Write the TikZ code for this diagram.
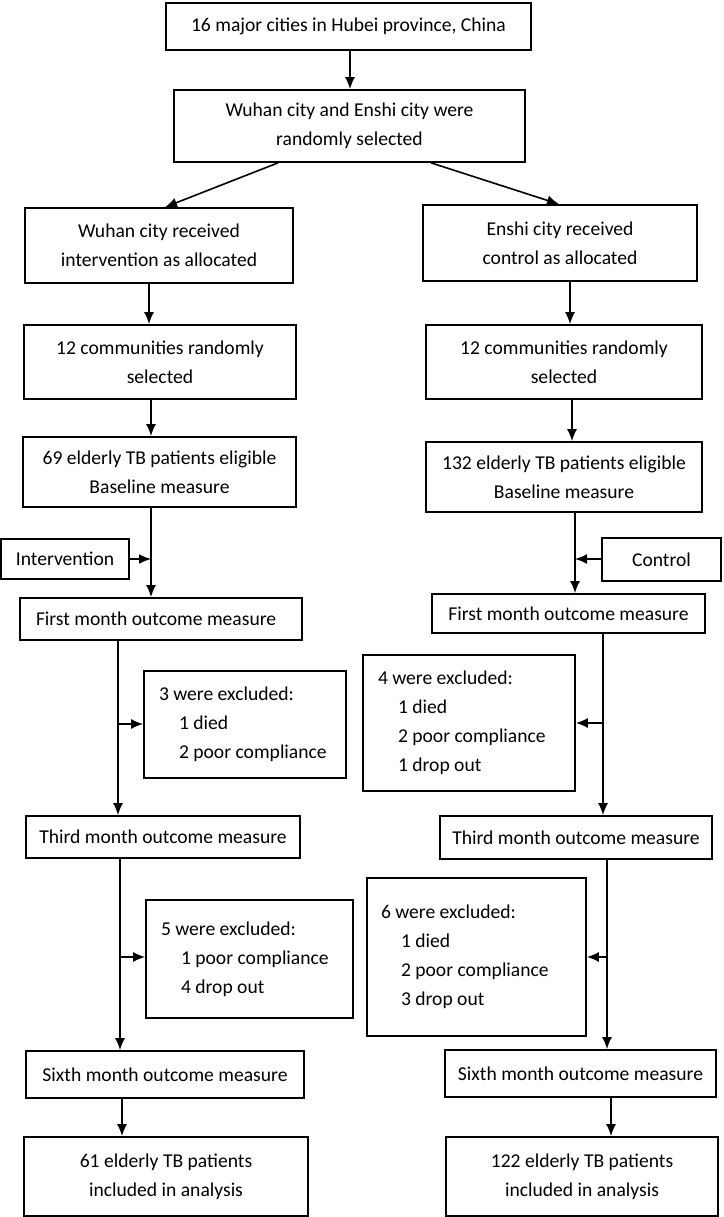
\documentclass[tikz,border=0pt]{standalone}
\usepackage{fontspec}
\setmainfont{Carlito}
\usetikzlibrary{arrows.meta}
\newcommand{\fsz}{\fontsize{19.6}{29}\selectfont}
\newcommand{\ind}{\hspace*{20pt}}
\tikzset{
  box/.style={draw, line width=1.7pt, align=center, inner sep=0pt, font=\fsz},
  lbox/.style={draw, line width=1.7pt, align=flush left, inner ysep=0pt, font=\fsz},
  arr/.style={line width=1.6pt, -{Latex[length=12pt,width=10pt]}},
}
\begin{document}
\begin{tikzpicture}[x=1pt,y=-1pt]
\useasboundingbox (0,0) rectangle (723,1217);
% top
\node[box, minimum width=365pt, minimum height=47pt] (b1) at (348.5,26.5) {16 major cities in Hubei province, China};
\node[box, minimum width=351pt, minimum height=72pt] (b2) at (349.5,126) {Wuhan city and Enshi city were\\randomly selected};
\node[box, minimum width=268pt, minimum height=75pt] (b3) at (159,245.5) {Wuhan city received\\intervention as allocated};
\node[box, minimum width=274pt, minimum height=76pt] (b4) at (560,243) {Enshi city received\\control as allocated};
\node[box, minimum width=272pt, minimum height=74pt] (b5) at (160,362) {12 communities randomly\\selected};
\node[box, minimum width=276pt, minimum height=74pt] (b6) at (564,362) {12 communities randomly\\selected};
\node[box, minimum width=273pt, minimum height=70pt] (b7) at (159.5,472) {69 elderly TB patients eligible\\Baseline measure};
\node[box, minimum width=276pt, minimum height=70pt] (b8) at (564,477) {132 elderly TB patients eligible\\Baseline measure};
% side boxes
\node[box, minimum width=128pt, minimum height=40pt] (int) at (65,559) {Intervention};
\node[box, minimum width=119pt, minimum height=43pt] (ctl) at (661.5,559.5) {Control};
% outcome measures
\node[lbox, inner xsep=16pt, text width=250pt, minimum height=42pt] (fmL) at (161,619) {First month outcome measure};
\node[box, minimum width=273pt, minimum height=39pt] (fmR) at (568.5,613.5) {First month outcome measure};
\node[lbox, inner xsep=15pt, text width=172pt, minimum height=107pt] (ex3) at (245,724.5) {3 were excluded:\\\ind 1 died\\\ind 2 poor compliance};
\node[lbox, inner xsep=15pt, text width=182pt, minimum height=136pt] (ex4) at (469,723) {4 were excluded:\\\ind 1 died\\\ind 2 poor compliance\\\ind 1 drop out};
\node[box, minimum width=274pt, minimum height=42pt] (tmL) at (163,837) {Third month outcome measure};
\node[box, minimum width=272pt, minimum height=43pt] (tmR) at (576,837.5) {Third month outcome measure};
\node[lbox, inner xsep=15pt, text width=177pt, minimum height=118pt] (ex5) at (249.5,959) {5 were excluded:\\\ind 1 poor compliance\\\ind 4 drop out};
\node[lbox, inner xsep=14pt, text width=191pt, minimum height=158pt] (ex6) at (476.5,957) {6 were excluded:\\\ind 1 died\\\ind 2 poor compliance\\\ind 3 drop out};
\node[box, minimum width=278pt, minimum height=47pt] (smL) at (165,1074.5) {Sixth month outcome measure};
\node[box, minimum width=271pt, minimum height=47pt] (smR) at (580.5,1073.5) {Sixth month outcome measure};
\node[box, minimum width=284pt, minimum height=79pt] (fnL) at (166,1176.5) {61 elderly TB patients\\included in analysis};
\node[box, minimum width=272pt, minimum height=79pt] (fnR) at (582,1176.5) {122 elderly TB patients\\included in analysis};
% junction coordinates
\coordinate (jint) at (151,559);
\coordinate (jctl) at (575,559);
\coordinate (j3) at (118,724);
\coordinate (j4) at (603,723);
\coordinate (j5) at (120,957);
\coordinate (j6) at (607,957);
% connectors
\draw[arr] (b1.south -| 350,0) -- (b2.north -| 350,0);
\draw[arr] (b2.south -| 278,0) -- (b3.north -| 165,0);
\draw[arr] (b2.south -| 431,0) -- (b4.north -| 559,0);
\draw[arr] (b3.south -| 149,0) -- (b5.north -| 149,0);
\draw[arr] (b4.south -| 570,0) -- (b6.north -| 570,0);
\draw[arr] (b5.south -| 151,0) -- (b7.north -| 151,0);
\draw[arr] (b6.south -| 572,0) -- (b8.north -| 572,0);
\draw[arr] (b7.south -| jint) -- (fmL.north -| jint);
\draw[arr] (b8.south -| jctl) -- (fmR.north -| jctl);
\draw[arr] (int.east) -- (jint);
\draw[arr] (ctl.west |- jctl) -- (jctl);
\draw[arr] (fmL.south -| j3) -- (tmL.north -| j3);
\draw[arr] (j3) -- (ex3.west |- j3);
\draw[arr] (fmR.south -| j4) -- (tmR.north -| j4);
\draw[arr] (j4) -- (ex4.east |- j4);
\draw[arr] (tmL.south -| j5) -- (smL.north -| j5);
\draw[arr] (j5) -- (ex5.west |- j5);
\draw[arr] (tmR.south -| j6) -- (smR.north -| j6);
\draw[arr] (j6) -- (ex6.east |- j6);
\draw[arr] (smL.south -| 122,0) -- (fnL.north -| 122,0);
\draw[arr] (smR.south -| 611,0) -- (fnR.north -| 611,0);
\end{tikzpicture}
\end{document}
